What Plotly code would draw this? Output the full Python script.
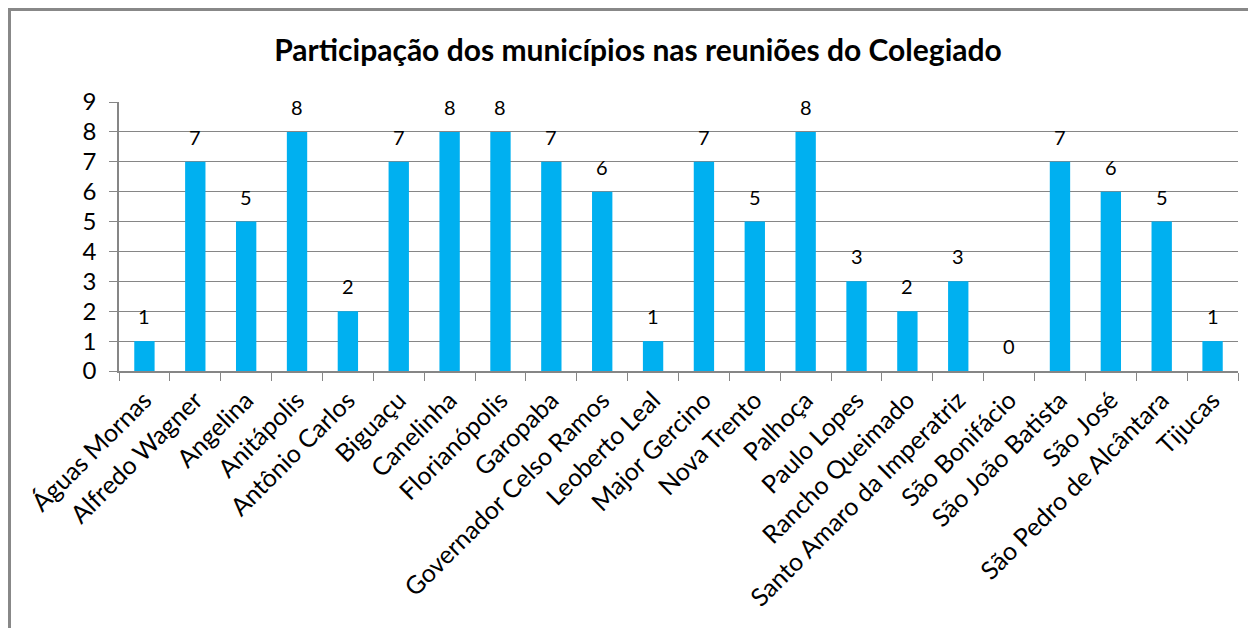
import plotly.graph_objects as go

municipios = ["Águas Mornas", "Alfredo Wagner", "Angelina", "Anitápolis", "Antônio Carlos",
              "Biguaçu", "Canelinha", "Florianópolis", "Garopaba", "Governador Celso Ramos",
              "Leoberto Leal", "Major Gercino", "Nova Trento", "Palhoça", "Paulo Lopes",
              "Rancho Queimado", "Santo Amaro da Imperatriz", "São Bonifácio", "São João Batista",
              "São José", "São Pedro de Alcântara", "Tijucas"]
participacoes = [1, 7, 5, 8, 2, 7, 8, 8, 7, 6, 1, 7, 5, 8, 3, 2, 3, 0, 7, 6, 5, 1]
titulo = "Participação dos municípios nas reuniões do Colegiado"
y_ticks = list(range(0, 10))

FONT = "Lato"
W, H = 1256, 628
L, R, T, B = 111, 26, 94, 265
pw, ph = W - L - R, H - T - B

fig = go.Figure()
fig.add_trace(go.Bar(x=municipios, y=participacoes, marker=dict(color="#00B0F0", line=dict(width=0)),
                     width=0.4, showlegend=False, hoverinfo="x+y"))

for m, v in zip(municipios, participacoes):
    fig.add_annotation(x=m, y=v, text=str(v), showarrow=False, yanchor="bottom", yshift=11,
                       font=dict(family=FONT, size=20, color="#000000"))

fig.update_layout(
    width=W, height=H,
    margin=dict(l=L, r=R, t=T, b=B),
    paper_bgcolor="white", plot_bgcolor="white",
    title=dict(text="<b>" + titulo + "</b>", x=(638 - 8) / W, xanchor="center",
               y=1 - (50 - 8) / H, yanchor="middle",
               font=dict(family=FONT, size=30, color="#000000")),
    font=dict(family=FONT, size=20, color="#000000"),
    xaxis=dict(tickangle=-45, showline=True, linecolor="#868686", linewidth=1.5,
               ticks="outside", ticklen=8, tickcolor="#868686", showgrid=False, automargin=False,
               ticklabelstandoff=3,
               tickson="boundaries", tickfont=dict(family=FONT, size=25, color="#000000")),
    yaxis=dict(range=[0, 9], tickvals=y_ticks, showgrid=True, gridcolor="#868686", gridwidth=1,
               showline=True, linecolor="#868686", linewidth=1.5, ticks="outside", ticklen=8,
               tickcolor="#868686", zeroline=False, automargin=False, ticklabelstandoff=8,
               tickfont=dict(family=FONT, size=24, color="#000000")),
    shapes=[dict(type="rect", xref="paper", yref="paper",
                 x0=-(L - 1.5) / pw, x1=1 + (R + 40) / pw,
                 y0=-(B + 40) / ph, y1=1 + (T - 1.5) / ph,
                 line=dict(color="#888888", width=3), fillcolor="rgba(0,0,0,0)", layer="below")],
)

fig.write_html("out.html")
